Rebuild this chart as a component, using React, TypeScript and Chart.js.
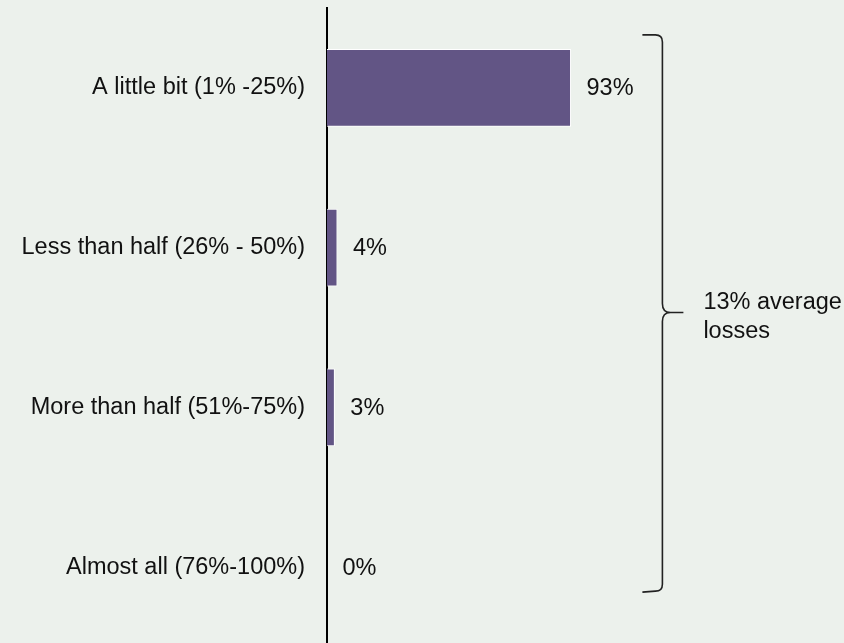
import React, { useEffect, useRef } from "react";
import { Chart, registerables } from "chart.js";

Chart.register(...registerables);

const categories = [
  "A little bit (1% -25%)",
  "Less than half (26% - 50%)",
  "More than half (51%-75%)",
  "Almost all (76%-100%)",
];
const values = [93, 4, 3, 0];
const valueLabels = ["93%", "4%", "3%", "0%"];
const annotationLines = ["13% average", "losses"];

const FONT = "'Liberation Sans', Arial, sans-serif";
const FONT_SIZE = 23.5;
const BG = "#ECF1EC";
const BAR = "#625585";

export default function App() {
  const ref = useRef<HTMLCanvasElement | null>(null);

  useEffect(() => {
    if (!ref.current) return;
    const labelPlugin = {
      id: "labelsAndBrace",
      afterDatasetsDraw(chart: any) {
        const ctx = chart.ctx;
        const meta = chart.getDatasetMeta(0);
        ctx.save();
        ctx.font = `${FONT_SIZE}px ${FONT}`;
        ctx.fillStyle = "#111";
        ctx.textBaseline = "middle";
        ctx.textAlign = "left";
        meta.data.forEach((bar: any, i: number) => {
          ctx.fillText(valueLabels[i], bar.x + 15.5, bar.y + 1);
        });
        // brace
        const ys = chart.scales.y;
        const top = ys.getPixelForValue(0) - 53;
        const bottom = ys.getPixelForValue(3) + 24;
        const mid = (ys.getPixelForValue(1) + ys.getPixelForValue(2)) / 2 - 15;
        const vx = chart.chartArea.right + 73;
        const lx = vx - 20;
        const tip = vx + 21;
        ctx.strokeStyle = "#222";
        ctx.lineWidth = 1.6;
        ctx.beginPath();
        ctx.moveTo(lx, top);
        ctx.lineTo(vx - 7, top);
        ctx.quadraticCurveTo(vx, top, vx, top + 7);
        ctx.lineTo(vx, mid - 9);
        ctx.quadraticCurveTo(vx, mid, vx + 8, mid);
        ctx.lineTo(tip, mid);
        ctx.moveTo(vx + 8, mid);
        ctx.quadraticCurveTo(vx, mid, vx, mid + 9);
        ctx.lineTo(vx, bottom - 7);
        ctx.quadraticCurveTo(vx, bottom, vx - 7, bottom);
        ctx.lineTo(lx, bottom + 1);
        ctx.stroke();
        ctx.fillStyle = "#111";
        ctx.fillText(annotationLines[0], tip + 20, mid - 10);
        ctx.fillText(annotationLines[1], tip + 20, mid + 19);
        ctx.restore();
      },
    };

    const chart = new Chart(ref.current, {
      type: "bar",
      data: {
        labels: categories,
        datasets: [
          {
            data: values,
            backgroundColor: BAR,
            borderColor: "#ffffff",
            borderWidth: 1,
            barPercentage: 0.4875,
            categoryPercentage: 1,
          },
        ],
      },
      options: {
        indexAxis: "y",
        animation: false,
        responsive: false,
        maintainAspectRatio: false,
        layout: { padding: { top: 8, bottom: 4, left: 0, right: 254.6 } },
        plugins: { legend: { display: false }, tooltip: { enabled: false } },
        scales: {
          x: { display: false, min: 0, max: 100 },
          y: {
            afterFit: (s: any) => {
              s.width = 327;
              s.paddingTop = 0;
              s.paddingBottom = 0;
            },
            grid: { display: false, drawTicks: false },
            border: { display: true, color: "#000", width: 2 },
            ticks: {
              padding: 22,
              color: "#111",
              font: { family: FONT, size: FONT_SIZE },
            },
          },
        },
      },
      plugins: [labelPlugin],
    });
    return () => chart.destroy();
  }, []);

  return (
    <div
      style={{
        position: "fixed",
        left: 0,
        top: 0,
        width: 844,
        height: 643,
        overflow: "hidden",
        background: BG,
      }}
    >
      <canvas ref={ref} width={844} height={651} style={{ display: "block" }} />
    </div>
  );
}
